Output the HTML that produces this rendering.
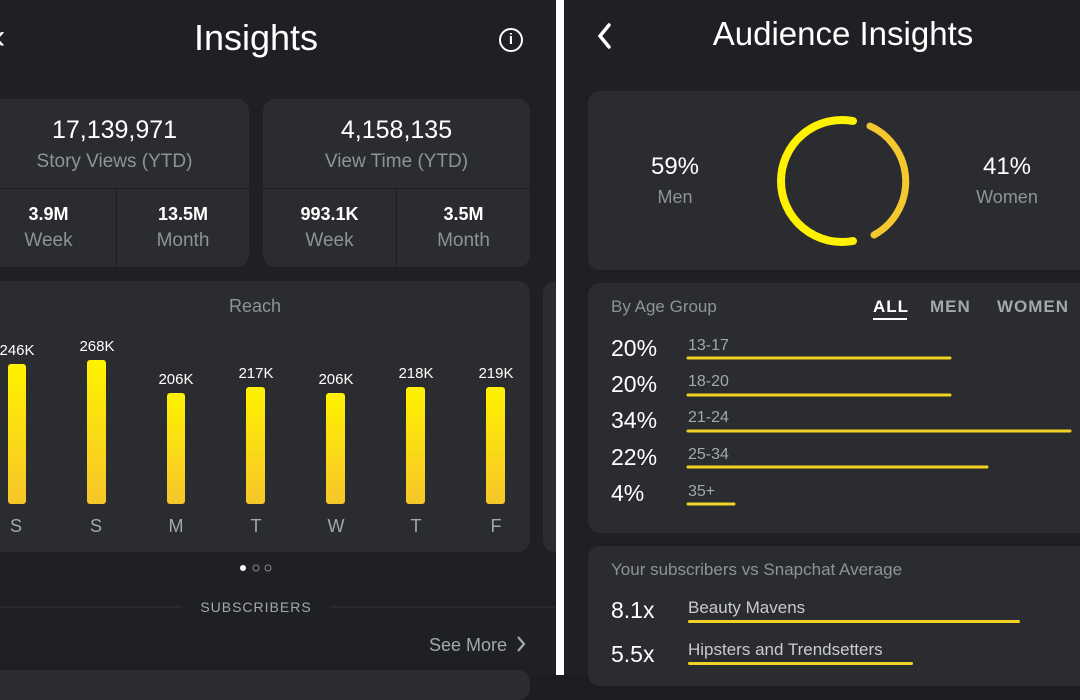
<!DOCTYPE html>
<html><head><style>
body{margin:0;width:1080px;height:675px;background:#1d1e21;font-family:"Liberation Sans",sans-serif;position:relative;overflow:hidden;color:#fff}
.a{position:absolute}
.card{position:absolute;background:#2a2c2f;border-radius:12px}
.c{text-align:center}
.g{color:#8f9297}
</style></head><body>
<!-- left panel -->
<div class="a" style="left:0;top:0;width:556px;height:675px;background:#1f2023"></div>
<div class="a" style="left:-6px;top:18px;font-size:34px;color:#fff">‹</div>
<div class="a c" style="left:156px;top:17px;width:200px;font-size:36px;">Insights</div>
<div class="a" style="left:499px;top:28px;width:20px;height:20px;border:2.5px solid #fff;border-radius:50%;font-size:15px;font-weight:bold;text-align:center;line-height:20px">i</div>

<div class="card" style="left:-20px;top:99px;width:269px;height:168px"></div>
<div class="a" style="left:0;top:188px;width:249px;height:1px;background:#1f2023"></div>
<div class="a" style="left:116px;top:189px;width:1px;height:78px;background:#1f2023"></div>
<div class="a c" style="left:0;top:116px;width:229px;font-size:25px">17,139,971</div>
<div class="a c g" style="left:0;top:151px;width:229px;font-size:19px">Story Views (YTD)</div>
<div class="a c" style="left:0;top:204px;width:97px;font-size:18px;font-weight:bold">3.9M</div>
<div class="a c g" style="left:0;top:230px;width:97px;font-size:19px">Week</div>
<div class="a c" style="left:124px;top:204px;width:118px;font-size:18px;font-weight:bold">13.5M</div>
<div class="a c g" style="left:124px;top:230px;width:118px;font-size:19px">Month</div>

<div class="card" style="left:263px;top:99px;width:267px;height:168px"></div>
<div class="a" style="left:263px;top:188px;width:267px;height:1px;background:#1f2023"></div>
<div class="a" style="left:396px;top:189px;width:1px;height:78px;background:#1f2023"></div>
<div class="a c" style="left:263px;top:116px;width:267px;font-size:25px">4,158,135</div>
<div class="a c g" style="left:263px;top:151px;width:267px;font-size:19px">View Time (YTD)</div>
<div class="a c" style="left:263px;top:204px;width:133px;font-size:18px;font-weight:bold">993.1K</div>
<div class="a c g" style="left:263px;top:230px;width:133px;font-size:19px">Week</div>
<div class="a c" style="left:397px;top:204px;width:133px;font-size:18px;font-weight:bold">3.5M</div>
<div class="a c g" style="left:397px;top:230px;width:133px;font-size:19px">Month</div>

<div class="card" style="left:-20px;top:281px;width:550px;height:271px"></div>
<div class="card" style="left:543px;top:281px;width:30px;height:271px"></div>
<div class="a c g" style="left:180px;top:296px;width:150px;font-size:18px">Reach</div>
<svg class="a" style="left:0;top:0" width="556" height="675">
<defs><linearGradient id="y" x1="0" y1="0" x2="0" y2="1"><stop offset="0" stop-color="#fff200"/><stop offset="1" stop-color="#f7c52a"/></linearGradient></defs>
<g fill="url(#y)">
<rect x="8" y="364" width="18" height="140" rx="3"/>
<rect x="87" y="360" width="19" height="144" rx="3"/>
<rect x="167" y="393" width="18" height="111" rx="3"/>
<rect x="246" y="387" width="19" height="117" rx="3"/>
<rect x="326" y="393" width="19" height="111" rx="3"/>
<rect x="406" y="387" width="19" height="117" rx="3"/>
<rect x="486" y="387" width="19" height="117" rx="3"/>
</g>
<g font-family="Liberation Sans" font-size="15" fill="#fff" text-anchor="middle">
<text x="17" y="355">246K</text><text x="97" y="351">268K</text><text x="176" y="384">206K</text><text x="256" y="378">217K</text><text x="336" y="384">206K</text><text x="416" y="378">218K</text><text x="496" y="378">219K</text>
</g>
<g font-family="Liberation Sans" font-size="18" fill="#a4a7ab" text-anchor="middle">
<text x="16" y="532">S</text><text x="96" y="532">S</text><text x="176" y="532">M</text><text x="256" y="532">T</text><text x="336" y="532">W</text><text x="416" y="532">T</text><text x="496" y="532">F</text>
</g>
<circle cx="243" cy="568" r="3" fill="#fff"/><circle cx="256" cy="568" r="3" fill="none" stroke="#888"/><circle cx="268" cy="568" r="3" fill="none" stroke="#888"/>
<line x1="0" y1="607" x2="182" y2="607" stroke="#333539"/><line x1="330" y1="607" x2="556" y2="607" stroke="#333539"/>
<text x="256" y="612" font-family="Liberation Sans" font-size="14" fill="#a4a7ab" text-anchor="middle" letter-spacing="1">SUBSCRIBERS</text>
<text x="429" y="651" font-family="Liberation Sans" font-size="18" fill="#a4a7ab">See More</text>
<path d="M518 637l6 7-6 7" stroke="#a4a7ab" stroke-width="2.2" fill="none"/>
</svg>
<div class="card" style="left:-20px;top:670px;width:550px;height:30px"></div>
<!-- divider -->
<div class="a" style="left:556px;top:0;width:8px;height:675px;background:#fff"></div>
<!-- right panel -->
<div class="a" style="left:564px;top:0;width:516px;height:675px;background:#1f2023"></div>
<svg class="a" style="left:564px;top:0" width="516" height="675">
<path d="M45 25l-9 11 9 11" stroke="#fff" stroke-width="3.5" fill="none" stroke-linecap="round"/>
</svg>
<div class="a c" style="left:650px;top:15px;width:386px;font-size:33px">Audience Insights</div>
<div class="card" style="left:588px;top:91px;width:510px;height:179px"></div>
<div class="a c" style="left:625px;top:153px;width:100px;font-size:24px">59%</div>
<div class="a c g" style="left:625px;top:187px;width:100px;font-size:18px">Men</div>
<div class="a c" style="left:957px;top:153px;width:100px;font-size:24px">41%</div>
<div class="a c g" style="left:957px;top:187px;width:100px;font-size:18px">Women</div>
<svg class="a" style="left:0;top:0" width="1080" height="675">
<path d="M853 121 A61 61 0 1 0 853 241" stroke="#fff200" stroke-width="8" fill="none" stroke-linecap="round"/>
<path d="M870 126 A61 61 0 0 1 874 235" stroke="#f6c830" stroke-width="7" fill="none" stroke-linecap="round"/>
</svg>
<div class="card" style="left:588px;top:283px;width:510px;height:250px"></div>
<div class="a g" style="left:611px;top:297px;font-size:17px">By Age Group</div>
<div class="a" style="left:873px;top:297px;font-size:17px;font-weight:bold;color:#fff;letter-spacing:1px">ALL</div>
<div class="a" style="left:873px;top:318px;width:34px;height:2px;background:#fff"></div>
<div class="a" style="left:930px;top:297px;font-size:17px;font-weight:bold;color:#a4a7ab;letter-spacing:1px">MEN</div>
<div class="a" style="left:997px;top:297px;font-size:17px;font-weight:bold;color:#a4a7ab;letter-spacing:1px">WOMEN</div>
<svg class="a" style="left:564px;top:0" width="516" height="675" font-family="Liberation Sans">
<g font-size="23" fill="#fff">
<text x="47" y="356">20%</text><text x="47" y="392">20%</text><text x="47" y="428">34%</text><text x="47" y="465">22%</text><text x="47" y="501">4%</text>
</g>
<g font-size="16" fill="#a4a7ab">
<text x="124" y="350">13-17</text><text x="124" y="386">18-20</text><text x="124" y="422">21-24</text><text x="124" y="459">25-34</text><text x="124" y="496">35+</text>
</g>
<g stroke="#f3d226" stroke-width="3" stroke-linecap="round">
<line x1="124" y1="358" x2="386" y2="358"/><line x1="124" y1="395" x2="386" y2="395"/><line x1="124" y1="431" x2="506" y2="431"/><line x1="124" y1="467" x2="423" y2="467"/><line x1="124" y1="504" x2="170" y2="504"/>
</g>
</svg>
<div class="card" style="left:588px;top:546px;width:510px;height:140px"></div>
<div class="a g" style="left:611px;top:560px;font-size:17px">Your subscribers vs Snapchat Average</div>
<div class="a" style="left:611px;top:597px;font-size:23px">8.1x</div>
<div class="a" style="left:688px;top:598px;font-size:17px;color:#c9cbce">Beauty Mavens</div>
<div class="a" style="left:688px;top:620px;width:332px;height:3px;background:#f3d226;border-radius:2px"></div>
<div class="a" style="left:611px;top:641px;font-size:23px">5.5x</div>
<div class="a" style="left:688px;top:640px;font-size:17px;color:#c9cbce">Hipsters and Trendsetters</div>
<div class="a" style="left:688px;top:662px;width:225px;height:3px;background:#f3d226;border-radius:2px"></div>
</body></html>
